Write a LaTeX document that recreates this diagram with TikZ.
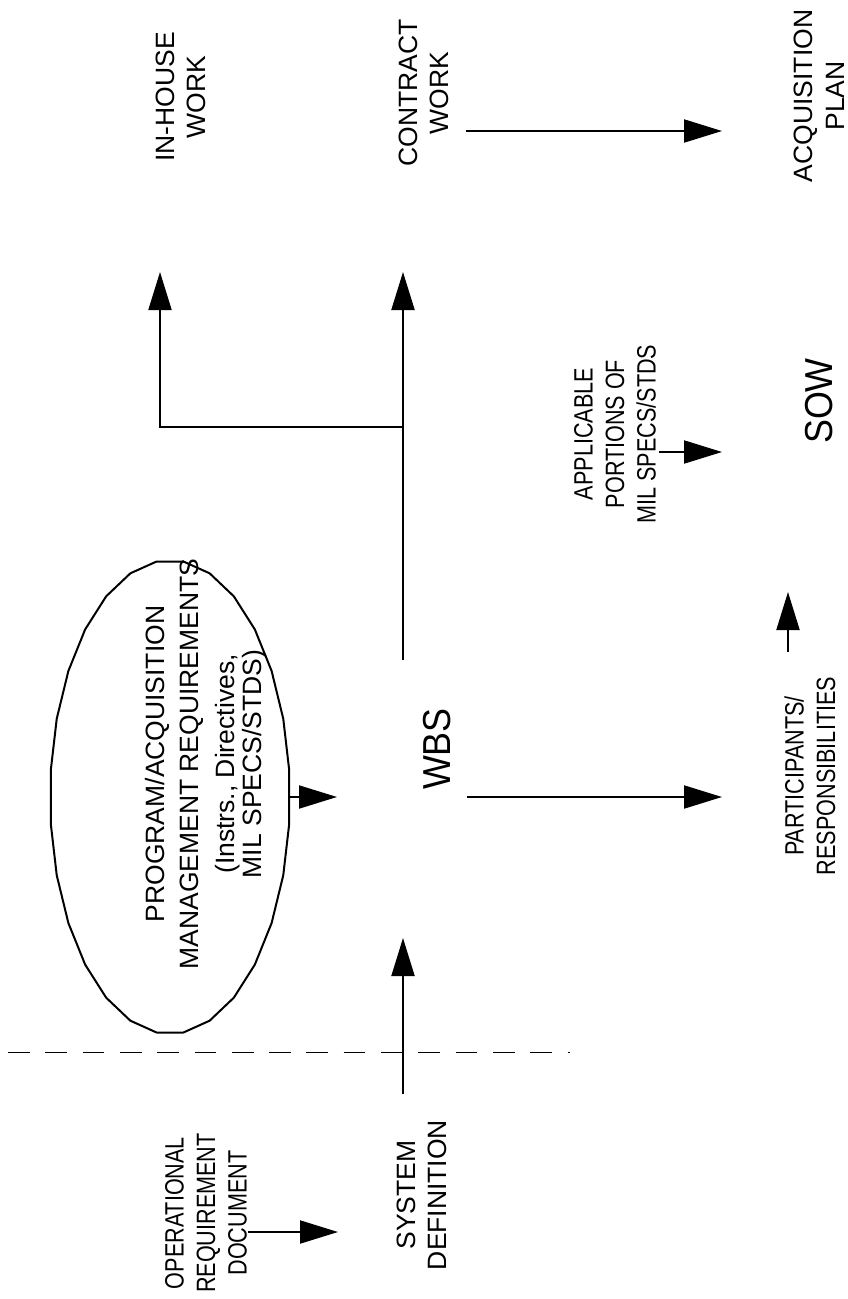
\documentclass[tikz,border=0pt]{standalone}
\usepackage{fontspec}
\setmainfont{Liberation Sans}
\newfontfamily\condfont[FakeStretch=0.815]{Liberation Sans}
\newfontfamily\bigfont[FakeStretch=0.92]{Liberation Sans}
\usetikzlibrary{arrows.meta,shapes.geometric}
\tikzset{
  lbl/.style={rotate=90, align=center, inner sep=0pt, font=\fontsize{26.5}{31.5}\selectfont},
  condlbl/.style={rotate=90, align=center, inner sep=0pt, font=\condfont\fontsize{26.5}{31.5}\selectfont},
  biglbl/.style={rotate=90, inner sep=0pt, font=\bigfont\fontsize{39}{42}\selectfont},
  arr/.style={line width=2pt, -{Triangle[length=38pt,width=23pt]}},
  ln/.style={line width=2pt},
  dsh/.style={line width=1pt, dash pattern=on 21.7pt off 15.6pt},
}
\begin{document}
\begin{tikzpicture}[x=1pt,y=-1pt]
\useasboundingbox (0,0) rectangle (847,1299);
% nodes
\node[lbl] (inhouse) at (181,97) {IN-HOUSE\\WORK};
\node[lbl] (contract) at (424,93) {CONTRACT\\WORK};
\node[lbl] (acq) at (819,96) {ACQUISITION\\PLAN};
\node[condlbl] (appl) at (615,434) {APPLICABLE\\PORTIONS OF\\MIL SPECS/STDS};
\node[biglbl] (sow) at (819,401) {SOW};
\node[ellipse, minimum width=240pt, minimum height=474pt, inner sep=0pt] (ell) at (170,797) {};
\draw[ln, line join=round] plot[samples=29, domain=6.4286:366.4286] ({170+120*cos(\x)},{797+237*sin(\x)}) -- cycle;
\node[lbl] (prog) at (206,764) {PROGRAM/ACQUISITION\\[2.5pt]MANAGEMENT REQUIREMENTS\\[4.5pt](Instrs., Directives,\\[-4.5pt]MIL SPECS/STDS)};
\node[biglbl] (wbs) at (437,749) {WBS};
\node[condlbl] (part) at (810,776) {PARTICIPANTS/\\RESPONSIBILITIES};
\node[condlbl] (ord) at (206,1213) {OPERATIONAL\\REQUIREMENT\\DOCUMENT};
\node[lbl] (sysdef) at (422,1195) {SYSTEM\\DEFINITION};
% coordinates
\coordinate (c1s) at (466,131);
\coordinate (c1e) at (722,131);
\coordinate (jn) at (403,427);
\coordinate (jl) at (160,427);
\coordinate (ihtip) at (160,272);
\coordinate (cwtip) at (403,272);
\coordinate (wbstop) at (403,660);
\coordinate (aps) at (659,452);
\coordinate (ape) at (722,452);
\coordinate (pts) at (788,652);
\coordinate (pte) at (788,592);
\coordinate (eltip) at (337,797);
\coordinate (wbss) at (467,797);
\coordinate (wbse) at (722,797);
\coordinate (sds) at (403,1094);
\coordinate (sde) at (403,938);
\coordinate (ords) at (248,1232);
\coordinate (orde) at (338,1232);
\coordinate (ds) at (8,1052);
\coordinate (de) at (570,1052);
% connectors
\draw[arr] (c1s) -- (c1e);
\draw[ln] (wbstop) -- (jn);
\draw[arr] (jn) -- (cwtip);
\draw[arr] (jn) -- (jl) -- (ihtip);
\draw[arr] (aps) -- (ape);
\draw[arr] (pts) -- (pte);
\draw[arr] (ell.east) -- (eltip);
\draw[arr] (wbss) -- (wbse);
\draw[arr] (sds) -- (sde);
\draw[arr] (ords) -- (orde);
\draw[dsh] (ds) -- (de);
\end{tikzpicture}
\end{document}
